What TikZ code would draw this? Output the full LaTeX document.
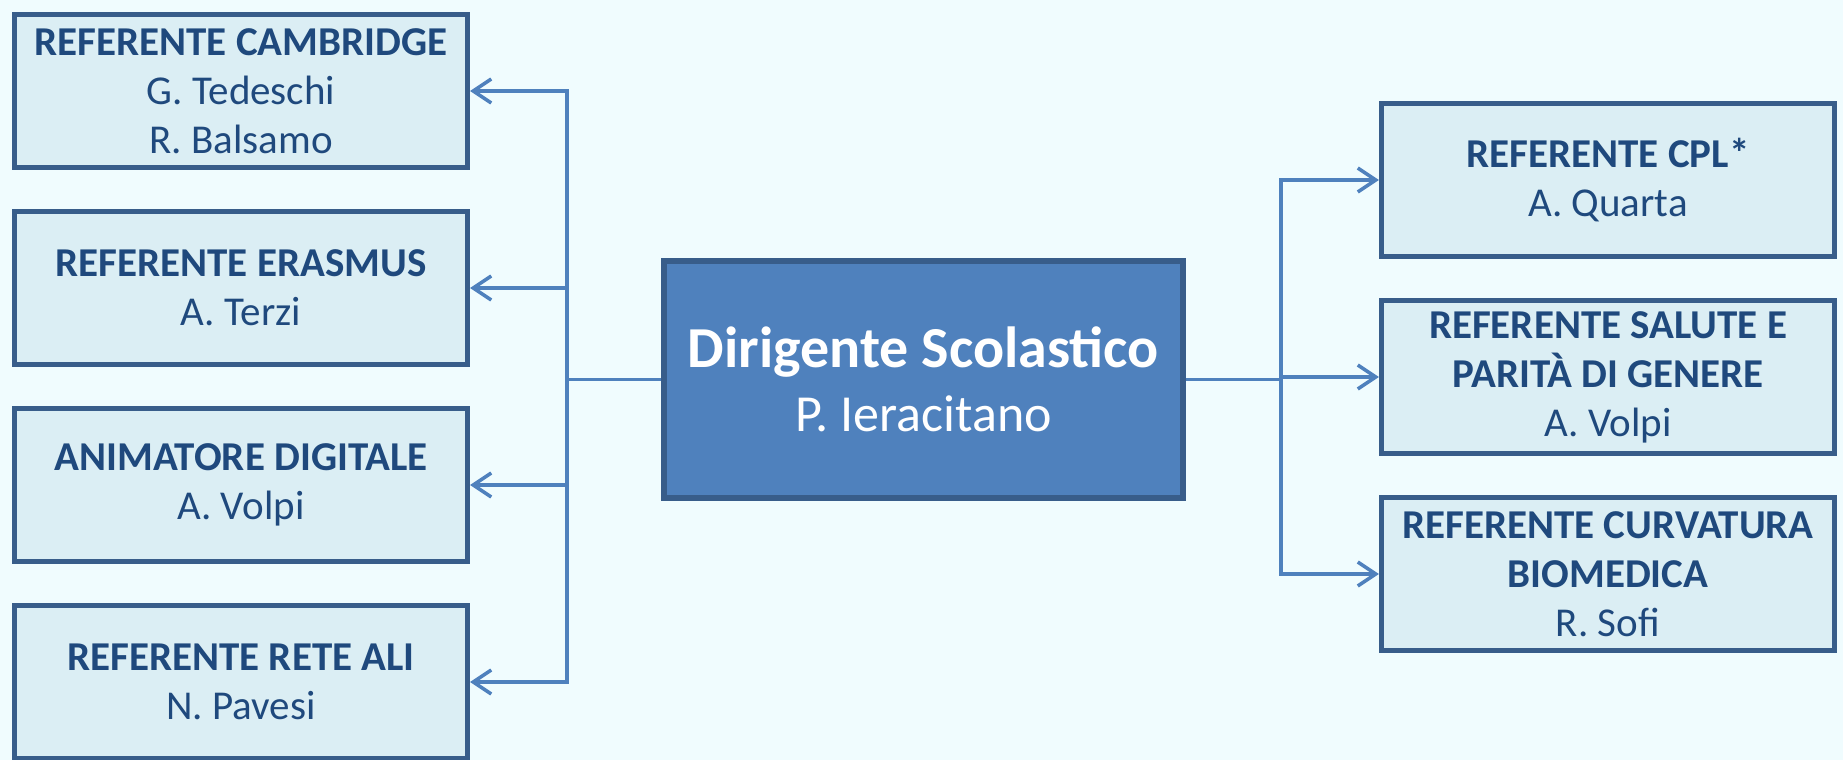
\documentclass[tikz,border=0pt]{standalone}
\usepackage{fontspec}
\setmainfont{Carlito}
\usetikzlibrary{arrows.meta,positioning}
\definecolor{bgcol}{HTML}{F0FCFE}
\definecolor{boxfill}{HTML}{DBEEF4}
\definecolor{boxline}{HTML}{385D8A}
\definecolor{boxtext}{HTML}{1F497D}
\definecolor{chieffill}{HTML}{4F81BD}
\definecolor{linkcol}{HTML}{4F81BD}

\begin{document}
\begin{tikzpicture}[x=0.5pt,y=-0.5pt]
    \tikzstyle{role}=[rectangle, draw=boxline, line width=2.6pt, fill=boxfill, text=boxtext, minimum width=226.5pt, minimum height=76.5pt, align=center, font=\fontsize{20.5}{24.5}\selectfont, node distance=19.4pt]
    \tikzstyle{chief}=[rectangle, draw=boxline, line width=2.6pt, fill=chieffill, text=white, minimum width=259.5pt, minimum height=118.5pt, align=center, font=\fontsize{26}{32}\selectfont]
    \tikzstyle{connect}=[-{Straight Barb[length=9pt,width=12pt]}, draw=linkcol, line width=1.75pt]
    \fill[bgcol] (0,0) rectangle (1843,760);
    \useasboundingbox (0,0) rectangle (1843,760);
    % centre
    \node[chief] (ds) at (923.5,379.5) {\textbf{\fontsize{29}{32}\selectfont Dirigente Scolastico}\\P. Ieracitano};
    % left column
    \node[role] (cam) at (241,91) {\textbf{REFERENTE CAMBRIDGE}\\G. Tedeschi\\R. Balsamo};
    \node[role] (era) [below=of cam] {\textbf{REFERENTE ERASMUS}\\A. Terzi};
    \node[role] (anim) [below=of era] {\textbf{ANIMATORE DIGITALE}\\A. Volpi};
    \node[role] (ali) [below=of anim] {\textbf{REFERENTE RETE ALI}\\N. Pavesi};
    % right column
    \node[role] (cpl) at (1608,180) {\textbf{REFERENTE CPL*}\\A. Quarta};
    \node[role] (sal) [below=of cpl] {\textbf{REFERENTE SALUTE E}\\\textbf{PARITÀ DI GENERE}\\A. Volpi};
    \node[role] (bio) [below=of sal] {\textbf{REFERENTE CURVATURA}\\\textbf{BIOMEDICA}\\R. Sofi};
    \coordinate (lj) at (567,379.5);
    \coordinate (rj) at (1281,379.5);
    \draw[draw=linkcol, line width=1.75pt] (ds.west) -- (lj)
    (ds.east) -- (rj);
    \draw[connect] (lj) |- (cam.east);
    \draw[connect] (lj) |- (era.east);
    \draw[connect] (lj) |- (anim.east);
    \draw[connect] (lj) |- (ali.east);
    \draw[connect] (rj) |- (cpl.west);
    \draw[connect] (rj) |- (sal.west);
    \draw[connect] (rj) |- (bio.west);
  \end{tikzpicture}
\end{document}
